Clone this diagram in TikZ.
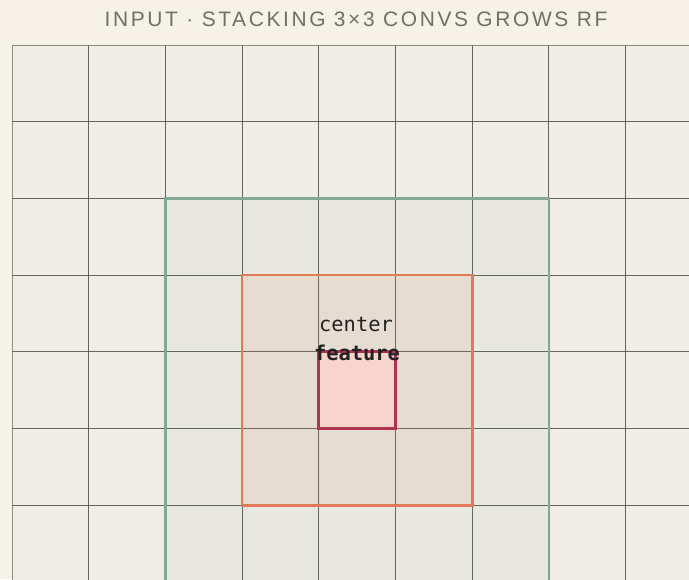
\documentclass[tikz,border=0pt]{standalone}
\usepackage{fontspec}
\setmainfont{Liberation Sans}
\newfontfamily\titlefont[LetterSpace=12.5]{Liberation Sans}
\newfontfamily\codefont{DejaVu Sans Mono}
\definecolor{paper}{HTML}{F6F2E8}
\definecolor{cellfill}{HTML}{F0EDE6}
\definecolor{gridink}{HTML}{4A4A42}
\definecolor{inkgray}{HTML}{6F6F68}
\definecolor{rfgreen}{HTML}{82A893}
\definecolor{rforange}{HTML}{E07B55}
\definecolor{rfred}{HTML}{B0334F}
\definecolor{redfill}{HTML}{F6D4CB}
\definecolor{labelink}{HTML}{222222}

\begin{document}
\begin{tikzpicture}[x=0.75pt,y=-0.75pt,
    cell/.style={fill=cellfill},
    gridline/.style={draw=gridink,draw opacity=0.6,line width=0.75pt},
    rfthree/.style={draw=rfgreen,line width=1.7pt,fill=rfgreen,fill opacity=0.07,draw opacity=1},
    rftwo/.style={draw=rforange,line width=2pt,fill=rforange,fill opacity=0.1,draw opacity=1},
    rfone/.style={draw=rfred,line width=2.3pt,fill=redfill},
    titletext/.style={text=inkgray,font=\titlefont\fontsize{15.7}{18}\selectfont,inner sep=0pt,anchor=base},
    celltext/.style={text=labelink,font=\codefont\fontsize{15.3}{18}\selectfont,inner sep=0pt,anchor=base}]
    \useasboundingbox[fill=paper] (0,0) rectangle (689,579);
    \clip (0,0) rectangle (689,579);

    \foreach \i in {0,...,8}
        \foreach \j in {0,...,6}
            \fill[cell] ({12+76.7*\i},{45+76.7*\j}) rectangle +(76.7,76.7);
    \foreach \i in {0,...,8}
        \foreach \j in {0,...,6}
            \draw[gridline] ({12+76.7*\i},{45+76.7*\j}) rectangle +(76.7,76.7);

    \draw[rfthree] (165.4,198.4) rectangle (548.9,581.9);
    \draw[rftwo] (242.1,275.1) rectangle (472.2,505.2);
    \draw[rfone] (318.8,351.8) rectangle (395.5,428.5);

    \node[titletext] (title) at (356,26.7) {INPUT · STACKING 3×3 CONVS GROWS RF};
    \node[celltext] (center) at (356,331.7) {center};
    \node[celltext,font=\codefont\bfseries\fontsize{15.3}{18}\selectfont] (feature) at (357,360) {feature};
\end{tikzpicture}
\end{document}
